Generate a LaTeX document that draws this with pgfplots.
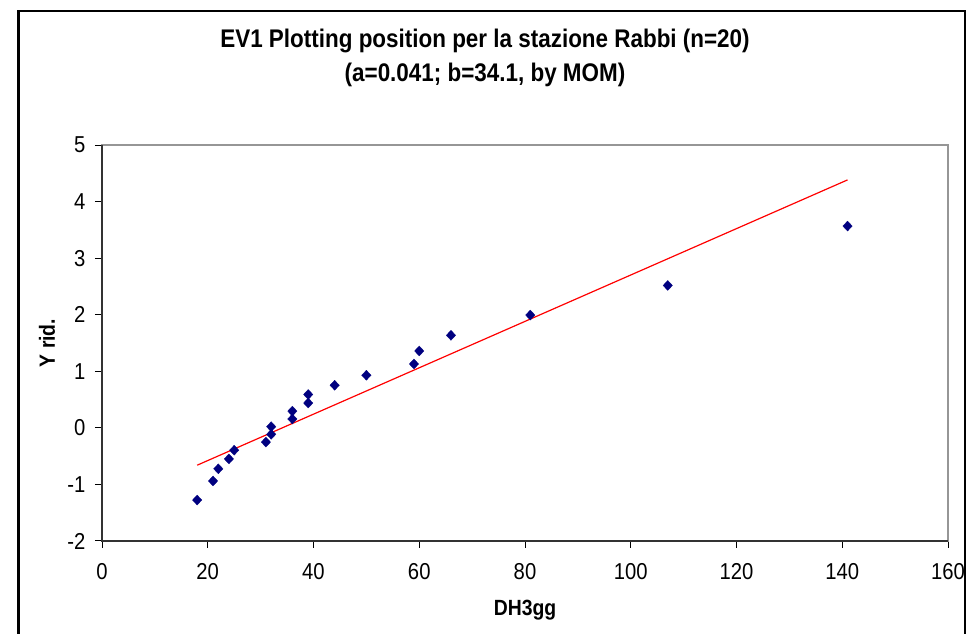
\documentclass[border=0pt]{standalone}
\usepackage{pgfplots}
\pgfplotsset{compat=1.18}
\usepackage{fontspec}
\setmainfont{Liberation Sans}[FakeStretch=0.88]
\definecolor{navy}{RGB}{0,0,128}
\definecolor{plotgray}{RGB}{150,150,150}
\begin{document}
\begin{tikzpicture}[x=1pt,y=1pt]
\useasboundingbox (0,0) rectangle (969,634);
\draw[line width=2.5pt] (18.5,-5) -- (18.5,623) -- (965,623) -- (965,-5);
\node[anchor=base, font=\fontsize{25.5}{30}\selectfont\bfseries] at (485,586) {EV1 Plotting position per la stazione Rabbi (n=20)};
\node[anchor=base, font=\fontsize{25.5}{30}\selectfont\bfseries] at (485,552) {(a=0.041; b=34.1, by MOM)};
\begin{axis}[
  at={(102pt,93pt)}, anchor=south west,
  scale only axis, width=846pt, height=396pt,
  xmin=0, xmax=160, ymin=-2, ymax=5,
  xtick={0,20,...,160}, ytick={-2,-1,0,1,2,3,4,5},
  tick align=outside, xtick pos=left, ytick pos=left,
  major tick length=7pt,
  tick style={black, line width=1pt},
  axis line style={plotgray, line width=1.6pt},
  /pgf/number format/assume math mode=true,
  ticklabel style={font=\fontsize{23}{27}\selectfont},
  xticklabel style={anchor=base, yshift=-31pt},
  yticklabel style={anchor=east, xshift=-6pt},
  xlabel={DH3gg}, ylabel={Y rid.},
  xlabel style={font=\fontsize{22}{26}\selectfont\bfseries, at={(axis description cs:0.5,-0.189)}, anchor=base},
  ylabel style={font=\fontsize{22}{26}\selectfont\bfseries, at={(axis description cs:-0.065,0.5)}, anchor=center},
  clip=false,
]
\draw[black!80, line width=1.4pt] (rel axis cs:0,1) -- (rel axis cs:0,0) -- (rel axis cs:1,0);
\addplot[red, line width=1.2pt] coordinates {(18,-0.660) (141,4.383)};
\addplot[only marks, mark=diamond*, mark size=5pt, mark options={xscale=1.25, draw=navy, fill=navy, line width=0.3pt}] coordinates {
(18,-1.276) (21,-0.939) (22,-0.724) (24,-0.549) (25,-0.395)
(31,-0.252) (32,-0.114) (32,0.021) (36,0.157) (36,0.296)
(39,0.439) (39,0.590) (44,0.753) (50,0.930) (59,1.129)
(60,1.359) (66,1.636) (81,1.994) (107,2.517) (141,3.567)
};
\end{axis}
\end{tikzpicture}
\end{document}
